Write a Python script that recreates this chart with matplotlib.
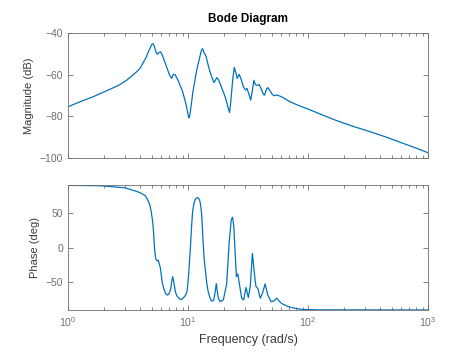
#!/usr/bin/env python3
"""Bode diagram of a lightly damped multi-mode system (values read off the reference)."""

import matplotlib

matplotlib.use("Agg")
import matplotlib.pyplot as plt
from matplotlib.ticker import LogLocator, NullFormatter, FixedLocator

# Magnitude curve: frequency (rad/s) and gain (dB)
mag_freq = [
    1.0, 1.26, 1.62, 2.24, 2.7, 3.09, 3.5, 3.73, 4.0, 4.24, 4.5, 4.67, 4.9,
    4.97, 5.08, 5.15, 5.25, 5.4, 5.55, 5.75, 5.9, 6.1, 6.6, 7.0, 7.3, 7.55,
    7.8, 8.3, 9.0, 9.6, 10.0, 10.1, 10.2, 10.35, 10.5, 11.0, 11.8, 12.6,
    12.9, 13.2, 13.4, 13.6, 14.1, 14.8, 15.6, 16.5, 17.4, 18.0, 19.0, 20.5,
    21.6, 22.2, 22.8, 23.6, 24.3, 25.0, 25.7, 26.7, 27.8, 29.0, 30.1, 31.0,
    32.2, 33.3, 34.3, 35.4, 36.5, 37.5, 39.2, 40.5, 42.5, 43.5, 45.0, 46.2,
    48.0, 50.0, 52.0, 55.5, 60.0, 70.8, 85.0, 101.0, 130.0, 172.0, 240.0,
    330.0, 450.0, 620.0, 800.0, 1000.0,
]
mag_db = [
    -75.4, -73.0, -70.6, -67.0, -64.8, -62.6, -60.0, -58.6, -56.8, -54.1,
    -51.5, -49.0, -46.5, -45.6, -45.2, -45.5, -46.6, -49.0, -50.2, -49.3,
    -49.0, -50.5, -56.0, -60.0, -61.8, -59.8, -60.0, -63.0, -68.0, -74.0,
    -79.0, -80.3, -80.7, -79.5, -77.0, -68.0, -58.0, -51.0, -48.5, -47.5,
    -48.3, -49.5, -51.0, -56.0, -60.5, -63.8, -61.4, -62.5, -66.0, -71.0,
    -76.0, -78.2, -72.0, -62.0, -56.5, -59.0, -61.8, -59.8, -62.5, -66.0,
    -67.3, -66.6, -69.5, -72.2, -68.0, -62.7, -64.8, -65.2, -64.7, -66.5,
    -69.5, -69.8, -67.0, -66.2, -67.5, -69.2, -70.1, -69.8, -70.6, -73.0,
    -75.0, -76.6, -79.2, -82.0, -84.9, -87.4, -90.0, -93.0, -95.3, -97.5,
]

# Phase curve: frequency (rad/s) and phase (deg)
ph_freq = [
    1.0, 1.85, 2.98, 3.7, 3.98, 4.38, 4.6, 4.82, 4.95, 5.08, 5.16, 5.24,
    5.3, 5.39, 5.52, 5.66, 5.89, 6.08, 6.25, 6.49, 6.7, 6.9, 7.05, 7.2, 7.3,
    7.45, 7.65, 7.85, 8.1, 8.5, 8.8, 9.2, 9.5, 9.8, 10.0, 10.2, 10.5, 10.7,
    10.9, 11.15, 11.4, 11.7, 12.0, 12.3, 12.6, 12.8, 13.0, 13.2, 13.4,
    13.65, 13.9, 14.3, 14.7, 15.2, 15.7, 16.0, 16.4, 16.9, 17.2, 17.5, 17.9,
    18.5, 19.7, 21.0, 22.0, 22.9, 23.5, 24.1, 24.7, 25.3, 26.0, 26.6, 28.0,
    29.1, 30.4, 31.8, 33.0, 34.4, 35.7, 36.8, 38.2, 40.0, 41.7, 43.9, 46.1,
    49.2, 52.0, 54.8, 60.0, 68.0, 77.6, 90.0, 120.0, 1000.0,
]
ph_deg = [
    89.5, 89.0, 86.0, 81.0, 79.0, 75.0, 69.0, 61.0, 50.0, 37.0, 22.0, 4.0,
    -8.0, -16.5, -19.0, -18.5, -30.0, -49.0, -58.0, -66.0, -68.5, -67.5,
    -64.0, -58.0, -50.0, -42.0, -52.0, -64.0, -70.0, -74.0, -75.0, -72.0,
    -69.0, -64.0, -50.0, -30.0, 4.0, 30.0, 50.0, 62.0, 68.0, 71.0, 72.0,
    70.5, 66.0, 58.0, 47.0, 25.0, 4.0, -18.0, -30.0, -50.0, -63.0, -72.0,
    -77.0, -77.0, -75.5, -62.0, -52.0, -62.0, -73.0, -78.0, -75.5, -52.0,
    6.0, 39.5, 43.5, 30.0, -8.0, -42.0, -38.0, -49.0, -73.0, -75.5, -57.5,
    -72.0, -56.0, -8.5, -37.0, -56.0, -59.0, -73.0, -66.0, -52.5, -68.0,
    -78.0, -77.0, -73.0, -80.5, -85.0, -87.6, -89.2, -89.8, -90.0,
]

LINE = "#0072BD"
AXIS = "#6e6e6e"
LABEL = "#3a3a3a"

plt.rcParams["font.family"] = ["Liberation Sans", "DejaVu Sans"]

fig = plt.figure(figsize=(4.74, 3.55), dpi=100)
ax_mag = fig.add_axes([0.1435, 0.555, 0.7595, 0.352])
ax_ph = fig.add_axes([0.1435, 0.1268, 0.7595, 0.352])

ax_mag.plot(mag_freq, mag_db, color=LINE, linewidth=0.9)
ax_ph.plot(ph_freq, ph_deg, color=LINE, linewidth=0.9)

for ax in (ax_mag, ax_ph):
    ax.set_xscale("log")
    ax.set_xlim(1, 1000)
    ax.xaxis.set_major_locator(LogLocator(base=10, numticks=10))
    ax.xaxis.set_minor_locator(LogLocator(base=10, subs=range(2, 10), numticks=20))
    ax.xaxis.set_minor_formatter(NullFormatter())
    ax.tick_params(which="both", direction="in", top=True, right=True,
                   colors=AXIS, labelsize=7.5, width=0.6)
    ax.tick_params(which="major", length=3.5)
    ax.tick_params(which="minor", length=2)
    for spine in ax.spines.values():
        spine.set_color(AXIS)
        spine.set_linewidth(0.6)

ax_mag.set_ylim(-100, -40)
ax_mag.yaxis.set_major_locator(FixedLocator([-100, -80, -60, -40]))
ax_mag.tick_params(axis="x", labelbottom=False)
ax_mag.set_ylabel("Magnitude (dB)", fontsize=8, color=LABEL)
ax_mag.set_title("Bode Diagram", fontsize=8.5, fontweight="bold", pad=8)

ax_ph.set_ylim(-90, 90)
ax_ph.yaxis.set_major_locator(FixedLocator([-50, 0, 50]))
ax_ph.set_ylabel("Phase (deg)", fontsize=8, color=LABEL)
ax_ph.set_xlabel("Frequency (rad/s)", fontsize=9, color=LABEL)

fig.savefig("out.png", dpi=100)
